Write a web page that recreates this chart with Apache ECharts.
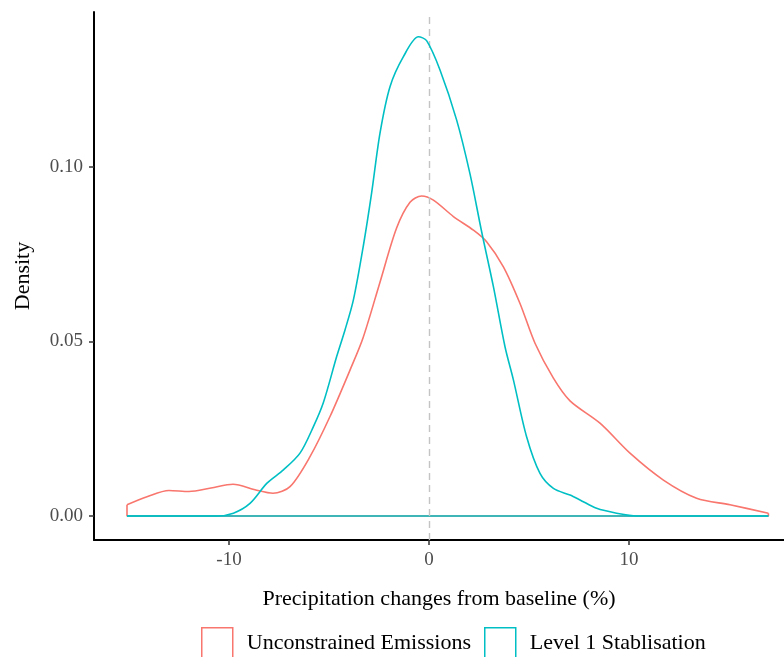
<!DOCTYPE html>
<html>
<head>
<meta charset="utf-8">
<script src="https://cdn.jsdelivr.net/npm/echarts@6/dist/echarts.min.js"></script>
<style>html,body{margin:0;padding:0;background:#fff}#c{width:784px;height:657px}</style>
</head>
<body>
<div id="c"></div>
<script>
// Unconstrained Emissions density curve
var redX = [-15.1, -14.1, -13.0, -12.0, -10.9, -9.8, -8.7, -7.8, -6.95, -5.95, -4.95, -3.95, -3.3, -2.45, -1.62, -0.95, -0.37, 0.22, 1.22, 2.22, 2.88, 3.72, 4.55, 5.3, 6.22, 7.05, 8.55, 10.05, 11.72, 13.38, 15.05, 16.97];
var redY = [0.0032, 0.0055, 0.0073, 0.0070, 0.0080, 0.0091, 0.0075, 0.0065, 0.0084, 0.0170, 0.0285, 0.0418, 0.0510, 0.0670, 0.0825, 0.0899, 0.0917, 0.0905, 0.0858, 0.0819, 0.0786, 0.0714, 0.0609, 0.0495, 0.0395, 0.0330, 0.0266, 0.0180, 0.0103, 0.0051, 0.0032, 0.0008];
// Level 1 Stablisation density curve
var blueX = [-15.1, -10.6, -9.78, -8.95, -8.1, -7.28, -6.45, -5.78, -5.28, -4.62, -4.2, -3.78, -3.28, -2.87, -2.45, -1.95, -1.28, -0.53, -0.12, 0.55, 1.38, 2.05, 2.63, 3.22, 3.8, 4.22, 4.88, 5.55, 6.22, 7.05, 7.55, 8.38, 9.38, 10.38, 16.97];
var blueY = [0, 0, 0.0008, 0.0036, 0.0094, 0.0132, 0.0180, 0.0256, 0.0325, 0.0456, 0.0533, 0.0619, 0.0775, 0.0925, 0.1097, 0.1230, 0.1316, 0.1373, 0.1362, 0.1278, 0.1135, 0.0980, 0.0815, 0.0657, 0.0485, 0.0390, 0.0227, 0.0122, 0.0079, 0.0060, 0.0046, 0.0022, 0.0008, 0, 0];
var seriesNames = ['Unconstrained Emissions', 'Level 1 Stablisation'];
var colors = ['#F8766D', '#00BFC4'];
var xTicks = [-10, 0, 10];
var yTicks = [0, 0.05, 0.10];
var refLineX = 0;

function zip(xs, ys) { return xs.map(function (x, i) { return [x, ys[i]]; }); }
function closure(xs, ys) {
  var n = xs.length;
  return [[xs[n - 1], ys[n - 1]], [xs[n - 1], 0], [xs[0], 0], [xs[0], ys[0]]];
}

var FONT = 'Liberation Serif';
var chart = echarts.init(document.getElementById('c'), null, {renderer: 'canvas'});
var curves = [[redX, redY], [blueX, blueY]];
var series = [];
curves.forEach(function (c, i) {
  series.push({
    name: seriesNames[i], type: 'line', data: closure(c[0], c[1]), smooth: false,
    showSymbol: false, symbol: 'none', silent: true, z: 2 + i * 2,
    lineStyle: {color: colors[i], width: 1.6},
    itemStyle: {color: colors[i]}
  });
  series.push({
    name: seriesNames[i], type: 'line', data: zip(c[0], c[1]), smooth: 0.3,
    showSymbol: false, symbol: 'none', silent: true, z: 3 + i * 2,
    lineStyle: {color: colors[i], width: 1.6},
    itemStyle: {color: colors[i]},
    markLine: i === 0 ? {
      silent: true, symbol: 'none', label: {show: false},
      lineStyle: {color: '#c4c4c4', type: [7, 5], width: 1.4},
      data: [{xAxis: refLineX}]
    } : undefined
  });
});

chart.setOption({
  animation: false,
  backgroundColor: '#fff',
  grid: {left: 94, right: 0, top: 12, bottom: 117, containLabel: false},
  xAxis: {
    type: 'value', min: -16.75, max: 17.75,
    name: 'Precipitation changes from baseline (%)', nameLocation: 'middle', nameGap: 48,
    nameTextStyle: {fontFamily: FONT, fontSize: 22, color: '#000'},
    axisLine: {show: true, onZero: false, lineStyle: {color: '#000', width: 2}},
    axisTick: {show: true, length: 5, lineStyle: {color: '#333', width: 1.5}, customValues: xTicks},
    axisLabel: {customValues: xTicks, fontFamily: FONT, fontSize: 19, color: '#4d4d4d', margin: 11},
    splitLine: {show: false}
  },
  yAxis: {
    type: 'value', min: -0.00688, max: 0.1444,
    name: 'Density', nameLocation: 'middle', nameGap: 60, nameRotate: 90,
    nameTextStyle: {fontFamily: FONT, fontSize: 22, color: '#000'},
    axisLine: {show: true, onZero: false, lineStyle: {color: '#000', width: 2}},
    axisTick: {show: true, length: 5, lineStyle: {color: '#333', width: 1.5}, customValues: yTicks},
    axisLabel: {customValues: yTicks, fontFamily: FONT, fontSize: 19, color: '#4d4d4d', margin: 11,
      formatter: function (v) { return v.toFixed(2); }},
    splitLine: {show: false}
  },
  legend: {
    left: 201, top: 627, padding: 0, orient: 'horizontal', itemWidth: 31, itemHeight: 31, itemGap: 13,
    icon: 'rect', selectedMode: false,
    textStyle: {fontFamily: FONT, fontSize: 22, color: '#000', padding: [0, 0, 0, 9]},
    data: seriesNames.map(function (n, i) {
      return {name: n, itemStyle: {color: 'rgba(255,255,255,0)', borderColor: colors[i], borderWidth: 1.5}};
    })
  },
  series: series
});
</script>
</body>
</html>
